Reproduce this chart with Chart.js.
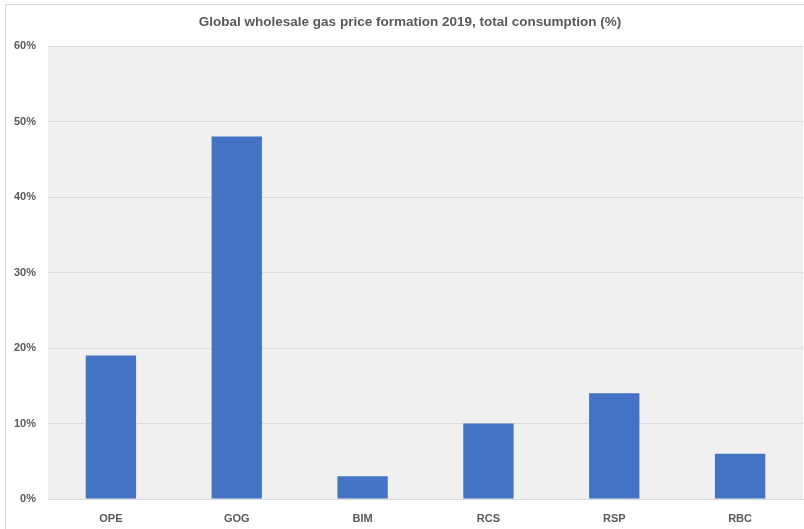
<!DOCTYPE html>
<html>
<head>
<meta charset="utf-8">
<script src="https://cdn.jsdelivr.net/npm/chart.js@4"></script>
<style>
  html, body { margin: 0; padding: 0; background: #fff; }
  canvas { display: block; }
</style>
</head>
<body>
<canvas id="chart" width="804" height="529"></canvas>
<script>
// chart data
const categories = ['OPE', 'GOG', 'BIM', 'RCS', 'RSP', 'RBC'];
const shares = [19, 48, 3, 10, 14, 6];
const yTicks = [0, 10, 20, 30, 40, 50, 60];
const chartTitle = 'Global wholesale gas price formation 2019, total consumption (%)';

const textColor = '#595959';
const fontFamily = '"Liberation Sans", Arial, sans-serif';

// plot area background, outer frame and title
const backdrop = {
    id: 'backdrop',
    beforeDraw(chart) {
        const { ctx, chartArea } = chart;
        ctx.save();
        ctx.fillStyle = '#ffffff';
        ctx.fillRect(0, 0, chart.width, chart.height);
        ctx.strokeStyle = '#d9d9d9';
        ctx.lineWidth = 1;
        ctx.beginPath();
        ctx.moveTo(5.5, chart.height);
        ctx.lineTo(5.5, 4.5);
        ctx.lineTo(chart.width, 4.5);
        ctx.stroke();
        ctx.fillStyle = '#f0f0f0';
        ctx.fillRect(chartArea.left, chartArea.top, chartArea.right - chartArea.left, chartArea.bottom - chartArea.top);

        // title, centred a little right of the canvas middle like the original
        ctx.fillStyle = textColor;
        ctx.font = 'bold 13.5px ' + fontFamily;
        ctx.textAlign = 'center';
        ctx.textBaseline = 'middle';
        ctx.fillText(chartTitle, 410, 22);
        ctx.restore();
    }
};

new Chart(document.getElementById('chart').getContext('2d'), {
    type: 'bar',
    data: {
        labels: categories,
        datasets: [{
            data: shares,
            backgroundColor: '#4472c4',
            borderWidth: 0,
            barPercentage: 1,
            categoryPercentage: 0.4
        }]
    },
    options: {
        responsive: false,
        animation: false,
        layout: { padding: { left: 0, right: 1, top: 46, bottom: 0 } },
        plugins: {
            legend: { display: false },
            tooltip: { enabled: false },
            title: { display: false }
        },
        scales: {
            x: {
                grid: { display: false },
                border: { display: true, color: '#d9d9d9', width: 1 },
                ticks: {
                    color: textColor,
                    font: { family: fontFamily, size: 11, weight: 'bold' },
                    padding: 5
                },
                afterFit(scale) { scale.height = 30; }
            },
            y: {
                min: 0,
                max: 60,
                afterBuildTicks(scale) {
                    scale.ticks = yTicks.map(v => ({ value: v }));
                },
                grid: { color: '#d9d9d9', drawTicks: false },
                border: { display: false },
                ticks: {
                    color: textColor,
                    font: { family: fontFamily, size: 11, weight: 'bold' },
                    padding: 12,
                    callback: v => v + '%'
                },
                afterFit(scale) { scale.width = 48; }
            }
        }
    },
    plugins: [backdrop]
});
</script>
</body>
</html>
